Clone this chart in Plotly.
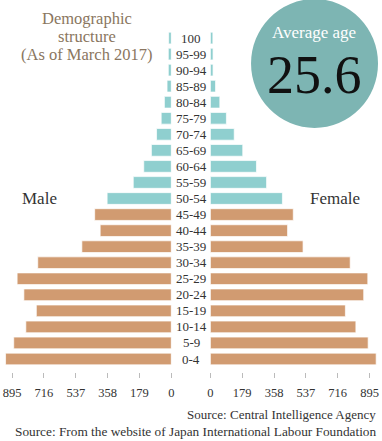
import plotly.graph_objects as go

ages = ["100", "95-99", "90-94", "85-89", "80-84", "75-79", "70-74", "65-69",
        "60-64", "55-59", "50-54", "45-49", "40-44", "35-39", "30-34", "25-29",
        "20-24", "15-19", "10-14", "5-9", "0-4"]
male = [15, 17, 17, 24, 39, 57, 83, 112, 155, 214, 361, 431, 400, 503, 751,
        867, 829, 759, 818, 886, 932]
female = [14, 15, 15, 29, 53, 90, 134, 182, 259, 316, 405, 466, 434, 521, 786,
          885, 862, 759, 818, 887, 932]
tick_vals = [0, 179, 358, 537, 716, 895]
title_lines = ["Demographic", "structure", "(As of March 2017)"]
old_groups = set(ages[:11])

TEAL = "#8fcfcf"
TAN = "#d19b71"
colors = [TEAL if a in old_groups else TAN for a in ages]
SERIF = "Liberation Serif"

fig = go.Figure()
fig.add_trace(go.Bar(y=ages, x=male, orientation="h", xaxis="x", yaxis="y",
                     marker=dict(color=colors, line=dict(color="rgba(255,255,255,0.7)", width=1)),
                     showlegend=False, hoverinfo="x+y"))
fig.add_trace(go.Bar(y=ages, x=female, orientation="h", xaxis="x2", yaxis="y",
                     marker=dict(color=colors, line=dict(color="rgba(255,255,255,0.7)", width=1)),
                     showlegend=False, hoverinfo="x+y"))

W, H = 382, 441
scale = 0.1807
axis_common = dict(tickvals=tick_vals, ticktext=[str(v) for v in tick_vals],
                   showgrid=False, zeroline=False, showline=False,
                   ticks="outside", ticklen=5, tickcolor="#bbbbbb", tickwidth=1,
                   ticklabelstandoff=4,
                   tickfont=dict(family=SERIF, size=12.5, color="#333333"),
                   anchor="y", fixedrange=True)
cat_order = ages[::-1]
fig.update_layout(
    width=W, height=H, margin=dict(l=0, r=0, t=0, b=0),
    paper_bgcolor="white", plot_bgcolor="white",
    font=dict(family=SERIF),
    bargap=0.27,
    xaxis=dict(domain=[0, 171 / W], range=[171 / scale, 0], **axis_common),
    xaxis2=dict(domain=[210.7 / W, 1], range=[0, (W - 210.7) / scale], **axis_common),
    yaxis=dict(domain=[(H - 372) / H, (H - 30) / H], range=[-0.81, 20.5],
               type="category", categoryorder="array", categoryarray=cat_order,
               showticklabels=False, showgrid=False, zeroline=False, showline=False,
               fixedrange=True),
)

for a in ages:
    fig.add_annotation(x=191 / W, xref="paper", y=cat_order.index(a), yref="y", text=a,
                       showarrow=False, font=dict(family=SERIF, size=13, color="#333333"),
                       xanchor="center", yanchor="middle")

for i, line in enumerate(title_lines):
    fig.add_annotation(x=85 / W, y=(H - (18 + 18.5 * i)) / H, xref="paper", yref="paper",
                       text=line, showarrow=False, xanchor="center", yanchor="middle",
                       borderpad=0,
                       font=dict(family=SERIF, size=16.5, color="#8a7660"))

fig.add_shape(type="circle", xref="paper", yref="paper",
              x0=252 / W, x1=381 / W, y0=(H - 128) / H, y1=(H + 1) / H,
              fillcolor="#7db5b3", line=dict(width=0), layer="below")
fig.add_annotation(x=316 / W, y=(H - 33) / H, xref="paper", yref="paper",
                   text="Average age", showarrow=False, xanchor="center", yanchor="middle",
                   font=dict(family=SERIF, size=17, color="white"))
fig.add_annotation(x=316 / W, y=(H - 75) / H, xref="paper", yref="paper",
                   text="25.6", showarrow=False, xanchor="center", yanchor="middle",
                   font=dict(family=SERIF, size=54, color="#111111"))

fig.add_annotation(x=37 / W, y=(H - 198) / H, xref="paper", yref="paper",
                   text="Male", showarrow=False, xanchor="center", yanchor="middle",
                   font=dict(family=SERIF, size=17, color="#333333"))
fig.add_annotation(x=337 / W, y=(H - 198) / H, xref="paper", yref="paper",
                   text="Female", showarrow=False, xanchor="center", yanchor="middle",
                   font=dict(family=SERIF, size=17, color="#333333"))

fig.add_annotation(x=381 / W, y=(H - 414) / H, xref="paper", yref="paper",
                   text="Source: Central Intelligence Agency", showarrow=False,
                   xanchor="right", yanchor="middle",
                   font=dict(family=SERIF, size=13, color="#333333"))
fig.add_annotation(x=381 / W, y=(H - 431) / H, xref="paper", yref="paper",
                   text="Source: From the website of Japan International Labour Foundation",
                   showarrow=False, xanchor="right", yanchor="middle",
                   font=dict(family=SERIF, size=13.3, color="#333333"))

fig.write_html("out.html", config={"displayModeBar": False, "staticPlot": True},
               post_script="document.body.style.margin='0px';")
